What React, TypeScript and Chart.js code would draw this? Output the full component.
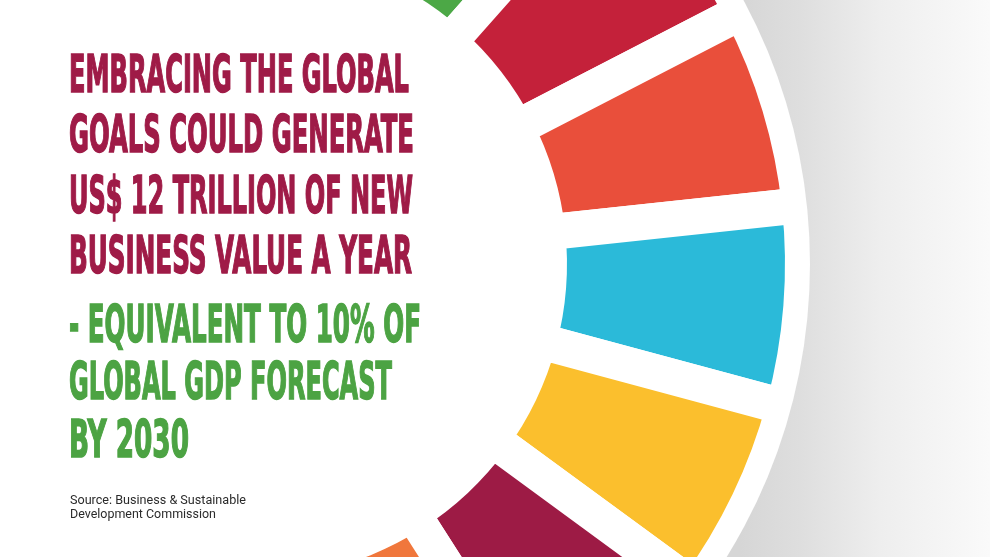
import React, { useEffect, useLayoutEffect, useRef } from "react";
import { Chart, registerables } from "chart.js";

Chart.register(...registerables);

// ---- data ----
const goalNames = [
  "No Poverty",
  "Zero Hunger",
  "Good Health and Well-being",
  "Quality Education",
  "Gender Equality",
  "Clean Water and Sanitation",
  "Affordable and Clean Energy",
  "Decent Work and Economic Growth",
  "Industry, Innovation and Infrastructure",
  "Reduced Inequalities",
  "Sustainable Cities and Communities",
  "Responsible Consumption and Production",
  "Climate Action",
  "Life Below Water",
  "Life on Land",
  "Peace, Justice and Strong Institutions",
  "Partnerships for the Goals",
];
const goalShares = [1, 1, 1, 1, 1, 1, 1, 1, 1, 1, 1, 1, 1, 1, 1, 1, 1];
// only goals 3–9 are shown in the picture; the rest are left blank
const goalColors = [
  "rgba(255,255,255,0)", "rgba(255,255,255,0)", "#4CA846", "#C4213A",
  "#E94F3B", "#2BBAD9", "#FBBF2D", "#9D1B45", "#F0773C",
  "rgba(255,255,255,0)", "rgba(255,255,255,0)", "rgba(255,255,255,0)",
  "rgba(255,255,255,0)", "rgba(255,255,255,0)", "rgba(255,255,255,0)",
  "rgba(255,255,255,0)", "rgba(255,255,255,0)",
];
const headlineLines = [
  "EMBRACING THE GLOBAL",
  "GOALS COULD GENERATE",
  "US$ 12 TRILLION OF NEW",
  "BUSINESS VALUE A YEAR",
];
const highlightLines = ["- EQUIVALENT TO 10% OF", "GLOBAL GDP FORECAST", "BY 2030"];
const sourceLines = ["Source: Business & Sustainable", "Development Commission"];

// ---- layout ----
const CX = 253;
const CY = 264;
const BW = 36; // gap width between segments
const R = 550; // arc path radius (visible outer edge = R - BW/2)
const PAD = 15;
const CANVAS = 2 * R + BW + 2 * PAD;
const HALF = CANVAS / 2;
const DISC = 557;

const headlineBaselines = [92, 152, 213, 273];
const headlineWidths = [340, 345, 344, 343];
const highlightBaselines = [342, 399, 457];
const highlightWidths = [352, 323, 120];
const sourceBaselines = [504, 518];
const sourceWidths = [176, 146];

const whiteDisc = {
  id: "whiteDisc",
  beforeDatasetsDraw(chart: any) {
    const arc = chart.getDatasetMeta(0).data[0] as any;
    if (!arc) return;
    const ctx = chart.ctx;
    ctx.save();
    ctx.fillStyle = "#ffffff";
    ctx.beginPath();
    ctx.arc(arc.x, arc.y, DISC + 2, 0, Math.PI * 2);
    ctx.fill();
    ctx.restore();
  },
};

function FitLine(props: { text: string; width: number; left: number; top: number; style: any }) {
  const ref = useRef<HTMLSpanElement>(null);
  useLayoutEffect(() => {
    const el = ref.current;
    if (!el) return;
    const fit = () => {
      el.style.transform = "none";
      const w = el.getBoundingClientRect().width;
      if (w > 0) el.style.transform = `scaleX(${props.width / w})`;
    };
    fit();
    const f: any = (document as any).fonts;
    if (f && f.ready) f.ready.then(fit);
  }, [props.text, props.width]);
  return (
    <span
      ref={ref}
      style={{
        position: "absolute",
        left: props.left,
        top: props.top,
        whiteSpace: "pre",
        transformOrigin: "0 0",
        lineHeight: 1,
        ...props.style,
      }}
    >
      {props.text}
    </span>
  );
}

export default function App() {
  const canvasRef = useRef<HTMLCanvasElement>(null);

  useEffect(() => {
    if (!canvasRef.current) return;
    const chart = new Chart(canvasRef.current, {
      type: "doughnut",
      data: {
        labels: goalNames,
        datasets: [
          {
            data: goalShares,
            backgroundColor: goalColors,
            borderColor: "#ffffff",
            borderWidth: BW,
            hoverBorderWidth: BW,
            borderAlign: "center",
            borderJoinStyle: "miter",
          } as any,
        ],
      },
      options: {
        responsive: false,
        maintainAspectRatio: false,
        animation: false,
        events: [],
        rotation: -22,
        cutout: 296,
        layout: { padding: PAD },
        plugins: {
          legend: { display: false },
          tooltip: { enabled: false },
          title: { display: false },
        },
      } as any,
      plugins: [whiteDisc],
    });
    return () => chart.destroy();
  }, []);

  const titleFont = {
    fontFamily: "'DejaVu Sans Condensed', 'DejaVu Sans', sans-serif",
    fontStretch: "condensed",
    fontWeight: 700,
    fontSize: 52,
  };
  const F = 52;
  const baseOff = 0.846 * F;

  return (
    <div
      style={{
        position: "fixed",
        left: 0,
        top: 0,
        width: 990,
        height: 557,
        overflow: "hidden",
        background:
          "linear-gradient(90deg, #d6d6d6 0px, #d6d6d6 740px, #dedede 800px, #eeeeee 880px, #fafafa 990px)",
      }}
    >
      <canvas
        ref={canvasRef}
        width={CANVAS}
        height={CANVAS}
        style={{
          position: "absolute",
          left: CX - HALF,
          top: CY - HALF,
          width: CANVAS,
          height: CANVAS,
          clipPath: `circle(${DISC}px at ${HALF}px ${HALF}px)`,
        }}
      />
      {headlineLines.map((t, i) => (
        <FitLine
          key={"h" + i}
          text={t}
          width={headlineWidths[i]}
          left={69}
          top={headlineBaselines[i] - baseOff}
          style={{ ...titleFont, color: "#9F1B47", WebkitTextStroke: "1.5px #9F1B47" }}
        />
      ))}
      {highlightLines.map((t, i) => (
        <FitLine
          key={"g" + i}
          text={t}
          width={highlightWidths[i]}
          left={69}
          top={highlightBaselines[i] - baseOff}
          style={{ ...titleFont, color: "#4CA343", WebkitTextStroke: "1.5px #4CA343" }}
        />
      ))}
      {sourceLines.map((t, i) => (
        <FitLine
          key={"s" + i}
          text={t}
          width={sourceWidths[i]}
          left={70}
          top={sourceBaselines[i] - 10.5}
          style={{ fontFamily: "Roboto, 'Liberation Sans', sans-serif", fontSize: 12.5, color: "#2b2b2b" }}
        />
      ))}
    </div>
  );
}
